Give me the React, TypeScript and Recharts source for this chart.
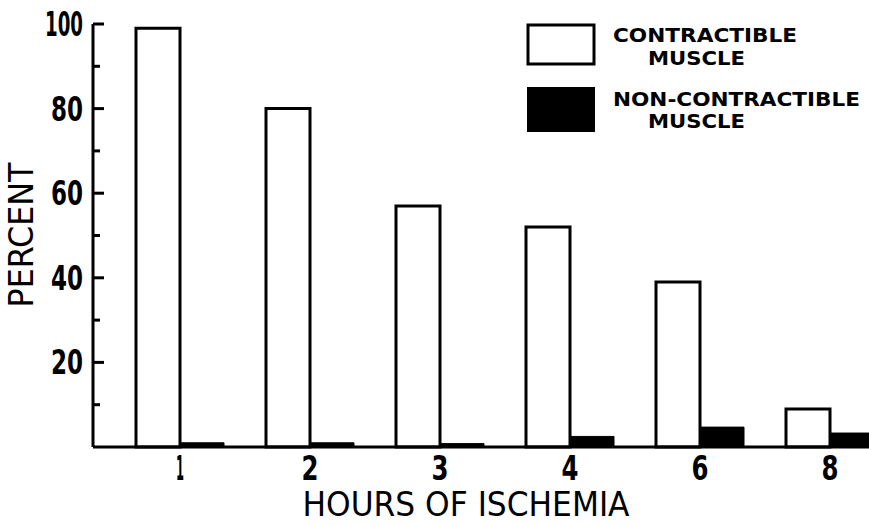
import React from 'react';
import { BarChart, Bar, XAxis, YAxis, Legend } from 'recharts';

// hours of ischemia
const hours = ['1', '2', '3', '4', '6', '8'];
// percent contractible / non-contractible muscle
const contractible = [99, 80, 57, 52, 39, 9];
const nonContractible = [1, 1, 0.8, 2.5, 4.7, 3.3];
const yTicks = [10, 20, 30, 40, 50, 60, 70, 80, 90, 100];

const data = hours.map((h, i) => ({
    hour: h,
    contractible: contractible[i],
    nonContractible: nonContractible[i],
}));

const FONT = '"DejaVu Sans Condensed", "DejaVu Sans", sans-serif';

// ticks point inward, only every 20 gets a label
const YTick = ({ x, y, payload }: { x?: number; y?: number; payload?: { value: number } }) => {
    const v = payload?.value ?? 0;
    const major = v % 20 === 0;
    const ax = (x ?? 0) + 10;
    const label = String(v);
    return (
        <g>
            <line x1={ax} x2={ax + (major ? 11 : 7)} y1={y} y2={y} stroke="#000" strokeWidth={3} />
            {major && (
                <text
                    x={x}
                    y={(y ?? 0) + 12}
                    textAnchor="end"
                    fontFamily={FONT}
                    fontSize={34}
                    fontWeight="bold"
                    textLength={label.length === 3 ? 38 : 32}
                    lengthAdjust="spacingAndGlyphs"
                    fill="#000"
                >
                    {label}
                </text>
            )}
        </g>
    );
};

const XTick = ({ x, y, payload }: { x?: number; y?: number; payload?: { value: string } }) => (
    <text
        x={x}
        y={(y ?? 0) + 33}
        textAnchor="middle"
        fontFamily={FONT}
        fontSize={34}
        fontWeight="bold"
        fill="#000"
        textLength={payload?.value === '1' ? 8 : 17}
        lengthAdjust="spacingAndGlyphs"
    >
        {payload?.value}
    </text>
);

const legendText = {
    fontFamily: FONT,
    fontSize: 19,
    fontWeight: 'bold' as const,
    fill: '#000',
};

const ChartLegend = () => (
    <svg width={360} height={145} style={{ display: 'block' }}>
        <rect x={28} y={25} width={66} height={39} fill="#fff" stroke="#000" strokeWidth={3} />
        <rect x={27} y={87} width={68} height={45} fill="#000" />
        <text x={113} y={42} {...legendText} textLength={184} lengthAdjust="spacingAndGlyphs">CONTRACTIBLE</text>
        <text x={148} y={65} {...legendText} textLength={97} lengthAdjust="spacingAndGlyphs">MUSCLE</text>
        <text x={113} y={106} {...legendText} textLength={247} lengthAdjust="spacingAndGlyphs">NON-CONTRACTIBLE</text>
        <text x={148} y={128} {...legendText} textLength={97} lengthAdjust="spacingAndGlyphs">MUSCLE</text>
    </svg>
);

export default function App() {
    return (
        <div style={{ position: 'fixed', left: 0, top: 0, width: 869, height: 525, overflow: 'hidden', background: '#fff' }}>
            <BarChart
                width={900}
                height={525}
                data={data}
                margin={{ top: 24, right: 5, left: 0, bottom: 48 }}
                barGap={0}
                barSize={44}
            >
                <XAxis
                    dataKey="hour"
                    height={30}
                    padding={{ left: 22, right: 0 }}
                    axisLine={{ stroke: '#000', strokeWidth: 3 }}
                    tickLine={false}
                    tickSize={0}
                    tickMargin={0}
                    tick={<XTick />}
                    label={{
                        content: () => (
                            <text
                                x={466}
                                y={516}
                                textAnchor="middle"
                                fontFamily={FONT}
                                fontSize={33}
                                fill="#000"
                                textLength={327}
                                lengthAdjust="spacingAndGlyphs"
                            >
                                HOURS OF ISCHEMIA
                            </text>
                        ),
                    }}
                />
                <YAxis
                    width={93}
                    domain={[0, 100]}
                    ticks={yTicks}
                    interval={0}
                    axisLine={{ stroke: '#000', strokeWidth: 3 }}
                    tickLine={false}
                    tickSize={0}
                    tickMargin={10}
                    tick={<YTick />}
                    label={{
                        content: () => (
                            <text
                                transform="translate(33, 235) rotate(-90)"
                                textAnchor="middle"
                                fontFamily={FONT}
                                fontSize={34}
                                fill="#000"
                                textLength={145}
                                lengthAdjust="spacingAndGlyphs"
                            >
                                PERCENT
                            </text>
                        ),
                    }}
                />
                <Legend
                    content={<ChartLegend />}
                    wrapperStyle={{ position: 'absolute', left: 500, top: 0, width: 360, height: 0, overflow: 'visible' }}
                />
                <Bar
                    dataKey="contractible"
                    name="Contractible muscle"
                    fill="#fff"
                    stroke="#000"
                    strokeWidth={3}
                    isAnimationActive={false}
                />
                <Bar
                    dataKey="nonContractible"
                    name="Non-contractible muscle"
                    fill="#000"
                    stroke="#000"
                    strokeWidth={1}
                    isAnimationActive={false}
                />
            </BarChart>
        </div>
    );
}
